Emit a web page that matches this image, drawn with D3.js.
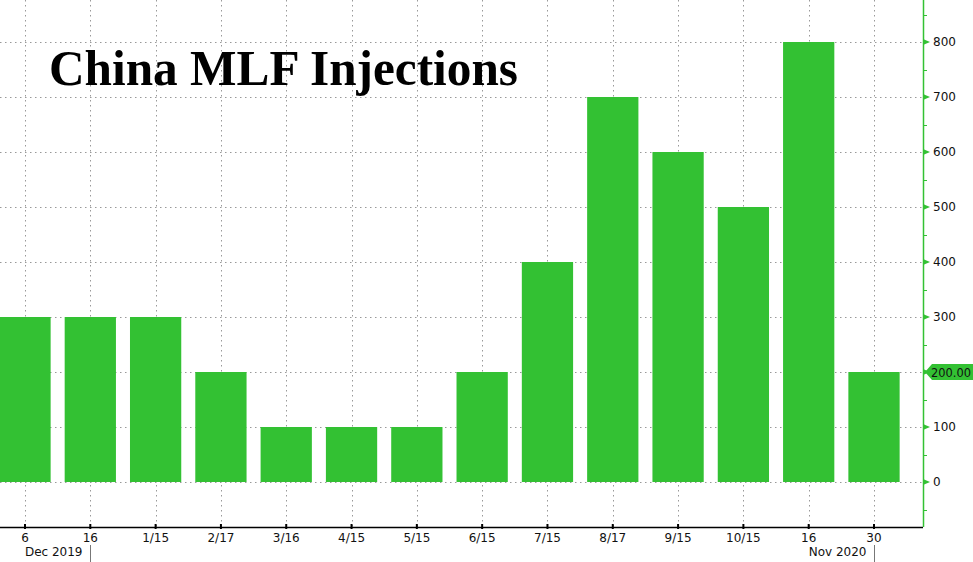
<!DOCTYPE html>
<html><head><meta charset="utf-8">
<script src="https://cdn.jsdelivr.net/npm/d3@7/dist/d3.min.js"></script>
<style>body{margin:0;background:#fff;}svg{display:block;}</style>
</head><body>
<svg id="c" width="973" height="562"></svg>
<script>
const tickLabels = ["6","16","1/15","2/17","3/16","4/15","5/15","6/15","7/15","8/17","9/15","10/15","16","30"];
const values = [300,300,300,200,100,100,100,200,400,700,600,500,800,200];
const yTicks = [0,100,200,300,400,500,600,700,800];
const periodLabels = [{label:"Dec 2019", idx:1}, {label:"Nov 2020", idx:13}];
const lastValue = 200;
const title = "China MLF Injections";

const svg = d3.select("#c");
const W = 973, H = 562;
const plotR = 923, plotB = 527;
const idx = d3.range(tickLabels.length);
const step = (874 - 25) / 13;
const x = d3.scaleBand().domain(idx).range([25 - step/2, 874 + step/2]).paddingInner(0.215).paddingOuter(0.1075);
const y = d3.scaleLinear().domain([0, 800]).range([482, 42]);
const cx = i => x(i) + x.bandwidth()/2;

const green = "#33c133";
const font = "Tahoma, DejaVu Sans, sans-serif";
// grid
const grid = svg.append("g").attr("stroke","#999").attr("stroke-width",1).attr("stroke-dasharray","1.5,3.5");
yTicks.forEach(t => grid.append("line").attr("x1",0).attr("x2",plotR).attr("y1",Math.round(y(t))+0.5).attr("y2",Math.round(y(t))+0.5));
idx.forEach(i => grid.append("line").attr("x1",Math.round(cx(i))+0.5).attr("x2",Math.round(cx(i))+0.5).attr("y1",0).attr("y2",plotB));

// bars
svg.append("g").selectAll("rect").data(values).join("rect")
  .attr("x",(d,i)=>x(i)).attr("width",x.bandwidth())
  .attr("y",d=>y(d)).attr("height",d=>y(0)-y(d)).attr("fill",green);

// title
svg.append("text").attr("x",49).attr("y",85).attr("font-family","Liberation Serif, Times New Roman, serif")
  .attr("font-weight","bold").attr("font-size",50).attr("fill","#000")
  .attr("textLength",469).attr("lengthAdjust","spacingAndGlyphs").text(title);

// bottom axis
const xAxis = d3.axisBottom(x).tickFormat(i=>tickLabels[i]).tickSize(4).tickPadding(2);
const gx = svg.append("g").attr("transform",`translate(0,${plotB})`).call(xAxis);
gx.select(".domain").attr("d",`M0,0.5H${plotR}`).attr("stroke","#000").attr("stroke-width",1.5);
gx.selectAll(".tick line").attr("stroke","#000").attr("y1",-3).attr("y2",2).attr("stroke-width",2);
gx.selectAll(".tick text").attr("font-family",font).attr("font-size",12).attr("fill","#111");

periodLabels.forEach(p => {
  const px = Math.round(cx(p.idx)) + 0.5;
  svg.append("line").attr("x1",px).attr("x2",px).attr("y1",545).attr("y2",562).attr("stroke","#777");
  svg.append("text").attr("x",px-8).attr("y",556).attr("text-anchor","end")
    .attr("font-family",font).attr("font-size",12).attr("fill","#111").text(p.label);
});

// right axis (the tick at the last value is covered by the value badge)
const yAxis = d3.axisRight(y).tickValues(yTicks.filter(t => t !== lastValue)).tickSize(0).tickPadding(10);
const gy = svg.append("g").attr("transform",`translate(${plotR},0)`).call(yAxis);
gy.select(".domain").remove();
gy.selectAll(".tick text").attr("font-family",font).attr("font-size",12).attr("fill","#111");
svg.append("line").attr("x1",plotR+0.5).attr("x2",plotR+0.5).attr("y1",0).attr("y2",plotB).attr("stroke",green).attr("stroke-width",1.5);
// major tick triangles
yTicks.forEach(t => {
  const ty = y(t);
  svg.append("path").attr("d",`M${plotR},${ty-3}L${plotR+7},${ty}L${plotR},${ty+3}Z`).attr("fill",green);
});
// minor ticks
d3.range(-50, 900, 100).forEach(t => {
  const ty = Math.round(y(t))+0.5;
  if (ty > 0 && ty < plotB) svg.append("line").attr("x1",plotR).attr("x2",plotR+4).attr("y1",ty).attr("y2",ty).attr("stroke",green);
});
// value badge
const by = y(lastValue);
svg.append("path").attr("d",`M${plotR+2},${by}L${plotR+9},${by-8}H${W}V${by+8}H${plotR+9}Z`).attr("fill",green);
svg.append("text").attr("x",plotR+8).attr("y",by+4.5).attr("font-family",font)
  .attr("font-size",12).attr("fill","#111")
  .attr("textLength",40).attr("lengthAdjust","spacingAndGlyphs").text(lastValue.toFixed(2));
</script>
</body></html>
